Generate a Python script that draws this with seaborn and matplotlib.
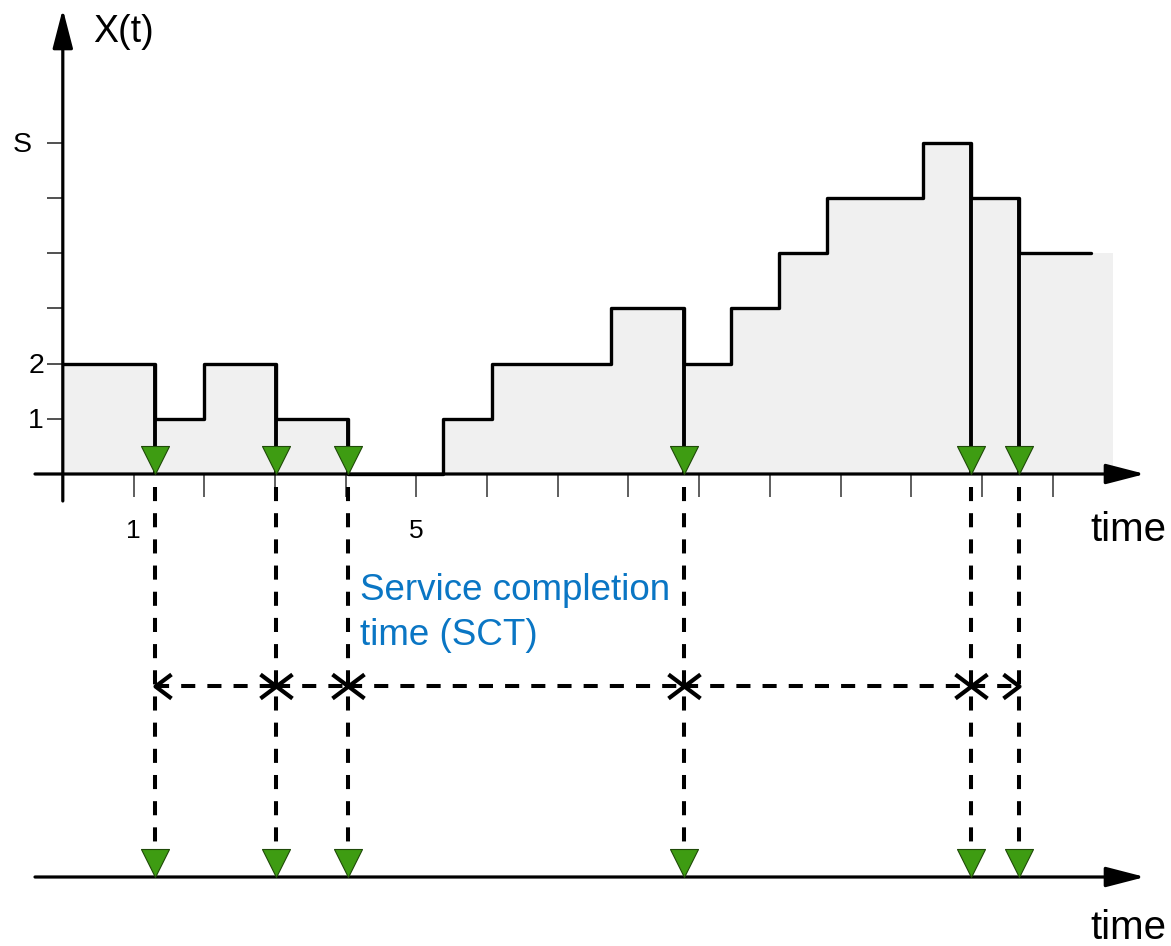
import matplotlib.pyplot as plt
import seaborn as sns
from matplotlib.path import Path

# queue length X(t): each value holds from its change time until the next one
change_times = [0.0, 1.31, 2.0, 3.01, 4.03, 5.38, 6.07, 7.76, 8.78,
                9.45, 10.13, 10.81, 12.16, 12.84, 13.52]
queue_len = [2, 1, 2, 1, 0, 1, 2, 3, 2, 3, 4, 5, 6, 5, 4]
t_line_end = 14.55
t_fill_end = 14.85

time_ticks = list(range(1, 15))
time_tick_labels = {1: "1", 5: "5"}
level_ticks = [1, 2, 3, 4, 5, 6]
level_tick_labels = {1: "1", 2: "2", 6: "S"}

# departures = the moments where X(t) goes down
dep_t = [change_times[i] for i in range(1, len(queue_len)) if queue_len[i] < queue_len[i - 1]]
dep_prev = [queue_len[i - 1] for i in range(1, len(queue_len)) if queue_len[i] < queue_len[i - 1]]

# pixel layout -> data units
W, H = 1171, 946
X0, XS = 62.8, 70.7
Y0, YS = 474, 55.2
def tx(px):
    return (px - X0) / XS
def ly(py):
    return (Y0 - py) / YS
PT = 0.72  # points per pixel at dpi 100

sns.set_style("white")
plt.rcParams["font.family"] = ["Liberation Sans", "DejaVu Sans"]
plt.rcParams["text.color"] = "black"

fig = plt.figure(figsize=(W / 100, H / 100), dpi=100)
ax = fig.add_axes([0, 0, 1, 1])
ax.set_xlim(tx(0), tx(W))
ax.set_ylim(ly(H), ly(0))
ax.axis("off")

green = "#3e9c12"
blue = "#0a76c4"
lower_y = ly(877)
row_y = ly(686)
tri_h = 28  # px

# grey area under X(t)
ax.fill_between(change_times + [t_fill_end], queue_len + [queue_len[-1]],
                step="post", color="#f0f0f0", lw=0, zorder=1)

# step line
sns.lineplot(x=change_times + [t_line_end], y=queue_len + [queue_len[-1]],
             drawstyle="steps-post", color="black", lw=2.4, sort=False,
             estimator=None, ax=ax, zorder=3)

# departure drops
ax.vlines(dep_t, 0, dep_prev, color="black", lw=2.8, zorder=3)

# axes with arrows
arrow = dict(arrowstyle="-|>,head_length=2.4,head_width=0.62", mutation_scale=10,
             lw=2.3, color="black", shrinkA=0, shrinkB=0)
ax.annotate("", xy=(tx(1145), 0), xytext=(tx(35), 0), arrowprops=arrow, zorder=4)
ax.annotate("", xy=(0, ly(9)), xytext=(0, ly(501)), arrowprops=arrow, zorder=4)
ax.annotate("", xy=(tx(1145), lower_y), xytext=(tx(35), lower_y), arrowprops=arrow, zorder=4)

# ticks
ax.vlines(time_ticks, ly(497), 0, color="#333333", lw=1.1, zorder=2)
ax.hlines(level_ticks, tx(47), 0, color="#222222", lw=1.1, zorder=2)
for t, lab in time_tick_labels.items():
    ax.text(t, ly(538), lab, fontsize=19, ha="center", va="baseline")
for lv, lab in level_tick_labels.items():
    x = tx(32) if lab == "S" else tx(44)
    ax.text(x, ly(Y0 - YS * lv + 9.5), lab, fontsize=20.5, ha="right", va="baseline")

ax.text(tx(93), ly(42), "X(t)", fontsize=27, ha="left", va="baseline")
ax.text(tx(1166), ly(541), "time", fontsize=29, ha="right", va="baseline")
ax.text(tx(1166), ly(939), "time", fontsize=29, ha="right", va="baseline")
ax.text(tx(360), ly(600), "Service completion", fontsize=26.5, color=blue, va="baseline")
ax.text(tx(360), ly(645), "time (SCT)", fontsize=26.5, color=blue, va="baseline")

# dashed projections to the lower time axis
dash = (0, (3.5, 3))
for t in dep_t:
    ax.plot([t, t], [ly(487), lower_y + tri_h / YS], color="black", lw=2.9,
            linestyle=dash, zorder=2)

# service completion intervals
left_head = Path([(1, 0.75), (0, 0), (1, -0.75)], [Path.MOVETO, Path.LINETO, Path.LINETO])
right_head = Path([(-1, 0.75), (0, 0), (-1, -0.75)], [Path.MOVETO, Path.LINETO, Path.LINETO])
for a, b in zip(dep_t[:-1], dep_t[1:]):
    ax.plot([a, b], [row_y, row_y], color="black", lw=2.9, linestyle=dash, zorder=3)
    ax.plot([a], [row_y], marker=left_head, ms=32 * PT, mfc="none", mec="black",
            mew=3.0, zorder=4)
    ax.plot([b], [row_y], marker=right_head, ms=32 * PT, mfc="none", mec="black",
            mew=3.0, zorder=4)

# green departure markers, tip on the axis
tri = Path([(0, 0), (-0.5, 1), (0.5, 1), (0, 0)], closed=True)
ms = 2 * tri_h * PT
sns.scatterplot(x=dep_t, y=[0] * len(dep_t), marker=tri, s=ms ** 2, color=green,
                edgecolor="#1f4a08", linewidth=0.8, ax=ax, zorder=6)
sns.scatterplot(x=dep_t, y=[lower_y] * len(dep_t), marker=tri, s=ms ** 2, color=green,
                edgecolor="#1f4a08", linewidth=0.8, ax=ax, zorder=6)

fig.savefig("out.png", dpi=100)
